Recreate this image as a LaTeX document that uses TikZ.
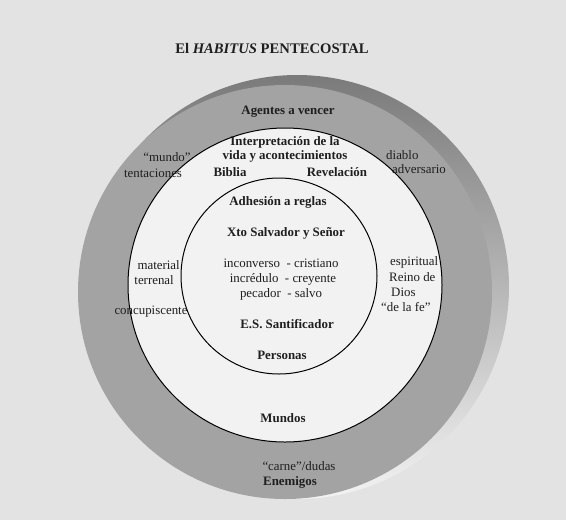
\documentclass[tikz,border=0pt]{standalone}
\usepackage{fontspec}
\setmainfont{Liberation Serif}
\usepackage{tikz}
\tikzset{txt/.style={inner sep=0pt, text=black!88, font=\fontsize{11}{13}\selectfont},
btxt/.style={txt, font=\fontsize{11}{13}\selectfont\bfseries}}

\begin{document}
\begin{tikzpicture}[x=0.03cm,y=-0.03cm]
\useasboundingbox (0,0) rectangle (566,520);
\fill[black!11] (0,0) rectangle (566,520);
\node[btxt, font=\fontsize{12.5}{15}\selectfont\bfseries] (title) at (272,48) {El \textit{HABITUS} PENTECOSTAL};

\shade[top color=black!52, bottom color=black!5] (297,287) circle[radius=212];
\fill[black!36] (285,292) circle[radius=207];
\draw[black, line width=0.03cm, fill=black!5] (285,285) circle[radius=157];
\draw[black, line width=0.03cm, fill=black!5] (279,276) circle[radius=98];

\node[btxt] (agentes) at (288,112) {Agentes a vencer};
\node[btxt] (interp) at (285,142) {Interpretación de la};
\node[btxt] (vida) at (285,156) {vida y acontecimientos};
\node[btxt] (biblia) at (230,172) {Biblia};
\node[btxt] (revel) at (337,172) {Revelación};
\node[txt] (mundo) at (167,157) {“mundo”};
\node[txt] (tent) at (153,173) {tentaciones};
\node[txt, anchor=west] (diablo) at (386,155) {diablo};
\node[txt, anchor=west] (advers) at (392,169) {adversario};
\node[btxt] (adhes) at (278,202) {Adhesión a reglas};
\node[btxt] (xto) at (286,233) {Xto Salvador y Señor};
\node[txt] (incon) at (281,263) {inconverso~~- cristiano};
\node[txt] (incre) at (283,279) {incrédulo~~- creyente};
\node[txt] (pecad) at (281,294) {pecador~~- salvo};
\node[btxt] (es) at (287,324) {E.S. Santificador};
\node[btxt] (personas) at (282,355) {Personas};
\node[txt, anchor=east] (material) at (180,265) {material};
\node[txt, anchor=east] (terrenal) at (174,280) {terrenal};
\node[txt] (concup) at (151,312) {concupiscente};
\node[txt, anchor=west] (espir) at (390,262) {espiritual};
\node[txt, anchor=west] (reino) at (389,277) {Reino de};
\node[txt, anchor=west] (dios) at (391,292) {Dios};
\node[txt, anchor=west] (fe) at (381,307) {“de la fe”};
\node[btxt] (mundos) at (283,418) {Mundos};
\node[txt] (carne) at (299,466) {“carne”/dudas};
\node[btxt] (enemigos) at (290,482) {Enemigos};
\end{tikzpicture}
\end{document}
